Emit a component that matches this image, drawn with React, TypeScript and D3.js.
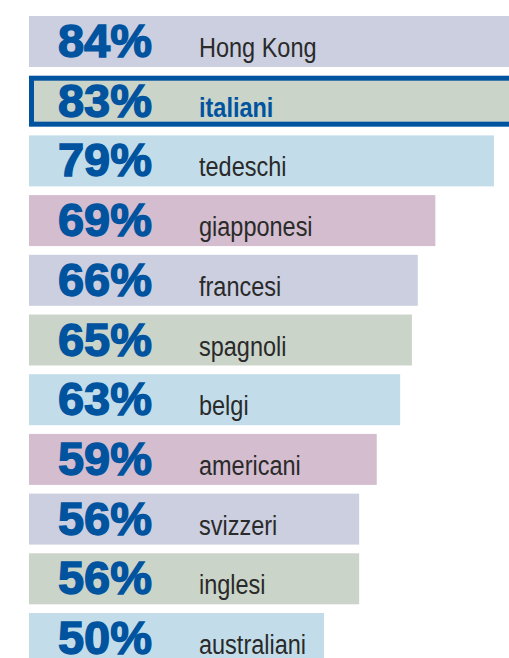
import React, { useEffect, useRef } from "react";
import * as d3 from "d3";

const LABELS = ["Hong Kong", "italiani", "tedeschi", "giapponesi", "francesi", "spagnoli", "belgi", "americani", "svizzeri", "inglesi", "australiani"];
const VALUES = [84, 83, 79, 69, 66, 65, 63, 59, 56, 56, 50];
const FILLS = ["#cbcfdf", "#cbd4c9", "#c2dde9", "#d3bdcf"];
const HIGHLIGHT = "italiani";

const W = 509;
const H = 658;
const BLUE = "#00539f";

export default function App() {
  const svgRef = useRef<SVGSVGElement | null>(null);

  useEffect(() => {
    document.body.style.margin = "0";
    const svg = d3.select(svgRef.current);
    svg.selectAll("*").remove();

    const x = d3.scaleLinear().domain([0, 100]).range([31, 617]);
    const y = d3.scaleBand<string>().domain(LABELS).range([16, 664]).paddingInner(0.146).paddingOuter(0);
    const left = 29;

    const rows = svg.selectAll("g.row")
      .data(LABELS.map((l, i) => ({ label: l, value: VALUES[i], i })))
      .enter()
      .append("g")
      .attr("class", "row")
      .attr("transform", (d) => `translate(0,${y(d.label)})`);

    rows.append("rect")
      .attr("x", (d) => (d.label === HIGHLIGHT ? left + 2.5 : left))
      .attr("y", (d) => (d.label === HIGHLIGHT ? 2.5 : 0))
      .attr("width", (d) => x(d.value) - left - (d.label === HIGHLIGHT ? 5 : 0))
      .attr("height", (d) => y.bandwidth() - (d.label === HIGHLIGHT ? 5 : 0))
      .attr("fill", (d) => FILLS[d.i % FILLS.length])
      .attr("stroke", (d) => (d.label === HIGHLIGHT ? BLUE : "none"))
      .attr("stroke-width", 5);

    // big percentages: bold plus a thin stroke to get the heavy look
    rows.append("text")
      .attr("x", 152)
      .attr("y", 41)
      .attr("text-anchor", "end")
      .attr("font-family", "Liberation Sans, Arial, sans-serif")
      .attr("font-weight", "bold")
      .attr("font-size", 47)
      .attr("fill", BLUE)
      .attr("stroke", BLUE)
      .attr("stroke-width", 1.4)
      .text((d) => `${d.value}%`);

    rows.append("text")
      .attr("transform", "translate(199,41) scale(0.87,1)")
      .attr("font-family", "Liberation Sans, Arial, sans-serif")
      .attr("font-weight", (d) => (d.label === HIGHLIGHT ? "bold" : "normal"))
      .attr("font-size", 27)
      .attr("fill", (d) => (d.label === HIGHLIGHT ? BLUE : "#2a2a2a"))
      .text((d) => d.label);
  }, []);

  return (
    <svg ref={svgRef} width={W} height={H} style={{ display: "block", background: "#fff" }} />
  );
}
